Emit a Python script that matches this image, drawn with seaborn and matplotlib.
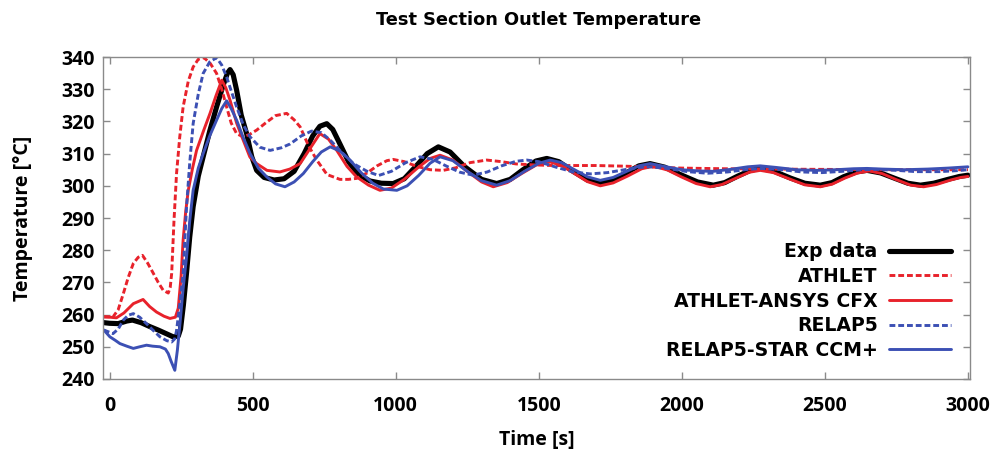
import matplotlib
matplotlib.use("Agg")
import matplotlib.pyplot as plt
import seaborn as sns

# ---- series: time [s] and temperature [°C] ----
exp_t = [-20, 0, 30, 60, 80, 110, 140, 170, 200, 222, 240, 248, 258, 269, 280, 292, 310, 327, 350,
         374, 398, 412, 421, 432, 444, 460, 479, 497, 514, 540, 575, 610, 645, 680, 710, 735, 759,
         780, 805, 835, 870, 910, 950, 991, 1030, 1070, 1110, 1149, 1190, 1240, 1300, 1353, 1400,
         1445, 1490, 1528, 1570, 1620, 1670, 1715, 1760, 1805, 1850, 1889, 1940, 2000, 2055, 2110,
         2150, 2195, 2240, 2274, 2320, 2380, 2430, 2484, 2525, 2565, 2610, 2647, 2695, 2745, 2790,
         2834, 2880, 2930, 2970, 3000]
exp_v = [257.5, 257.3, 257.2, 258.0, 258.3, 257.5, 256.3, 255.2, 254.0, 253.1, 253.3, 255.5, 263.0,
         273.0, 284.0, 293.5, 303.0, 309.0, 317.0, 324.5, 331.5, 335.0, 336.1, 334.5, 329.7, 322.0,
         316.2, 309.0, 304.8, 302.6, 301.8, 302.2, 304.5, 310.0, 315.5, 318.5, 319.3, 317.5, 313.0,
         307.5, 303.5, 301.5, 300.8, 300.7, 302.2, 306.0, 310.0, 312.1, 310.5, 306.0, 302.0, 300.7,
         302.0, 305.0, 307.7, 308.5, 307.5, 304.5, 301.8, 300.7, 301.8, 304.0, 306.2, 306.9, 305.8,
         303.3, 301.2, 300.2, 301.0, 303.0, 304.8, 305.4, 304.6, 302.4, 300.8, 300.2, 301.0, 302.8,
         304.3, 304.8, 304.0, 302.3, 300.8, 300.2, 300.8, 302.0, 302.9, 303.3]

athlet_t = [-20, 12, 30, 48, 65, 83, 100, 115, 133, 153, 170, 187, 205, 212, 217, 225, 234, 245,
            257, 275, 292, 310, 330, 352, 374, 392, 409, 425, 444, 467, 490, 514, 545, 580, 619,
            645, 666, 695, 724, 760, 805, 835, 863, 900, 935, 969, 991, 1030, 1075, 1120, 1166,
            1210, 1260, 1318, 1370, 1420, 1481, 1550, 1620, 1700, 1800, 1900, 2000, 2150, 2300,
            2500, 2700, 2900, 3000]
athlet_v = [259.3, 259.3, 261.5, 266.5, 271.5, 275.9, 277.8, 278.4, 276.0, 272.8, 270.0, 267.6,
            266.7, 268.5, 272.8, 289.0, 303.8, 315.0, 324.5, 332.5, 336.9, 339.3, 339.8, 338.0,
            334.9, 330.0, 324.5, 319.5, 316.2, 315.2, 316.0, 317.3, 319.5, 321.8, 322.5, 320.5,
            318.3, 312.5, 308.0, 303.5, 302.0, 302.0, 302.3, 304.0, 306.2, 307.8, 308.2, 307.5,
            306.0, 305.0, 304.8, 305.6, 307.2, 308.0, 307.5, 306.8, 306.5, 306.3, 306.3, 306.3,
            306.1, 305.8, 305.5, 305.3, 305.2, 305.1, 305.0, 305.0, 305.0]

cfx_t = [-20, 0, 24, 50, 83, 117, 140, 164, 190, 211, 230, 240, 250, 257, 266, 275, 290, 304, 328,
         351, 372, 392, 406, 421, 444, 467, 490, 514, 550, 595, 630, 666, 700, 735, 765, 794, 830,
         863, 905, 945, 985, 1030, 1080, 1120, 1155, 1200, 1250, 1300, 1341, 1390, 1440, 1490,
         1540, 1580, 1625, 1670, 1715, 1760, 1810, 1860, 1901, 1950, 2000, 2050, 2099, 2140, 2190,
         2235, 2274, 2320, 2380, 2430, 2484, 2525, 2570, 2615, 2655, 2700, 2750, 2800, 2845, 2890,
         2940, 2975, 3000]
cfx_v = [259.3, 259.2, 259.0, 260.5, 263.4, 264.7, 262.5, 260.8, 259.5, 258.8, 259.2, 262.0, 272.0,
         283.1, 292.0, 298.6, 305.5, 311.0, 317.0, 322.5, 328.0, 332.8, 330.5, 326.6, 319.5, 314.2,
         309.0, 306.9, 304.8, 304.3, 305.2, 306.9, 311.5, 316.2, 314.5, 311.0, 306.0, 302.8, 300.2,
         298.6, 299.3, 302.0, 305.8, 308.5, 309.5, 308.0, 304.5, 301.2, 299.7, 301.0, 303.8, 306.4,
         307.4, 306.3, 303.8, 301.3, 300.0, 300.9, 303.0, 305.3, 306.1, 304.9, 302.7, 300.7, 299.7,
         300.4, 302.4, 304.2, 304.8, 304.1, 302.0, 300.3, 299.7, 300.5, 302.4, 304.0, 304.6, 303.8,
         301.9, 300.2, 299.7, 300.4, 301.8, 302.6, 302.9]

relap_t = [-20, 12, 30, 48, 65, 83, 105, 129, 150, 176, 200, 217, 228, 234, 245, 257, 269, 280, 292,
           310, 327, 350, 374, 392, 409, 425, 444, 467, 491, 525, 561, 600, 631, 670, 706, 740, 771,
           810, 852, 900, 940, 985, 1035, 1085, 1130, 1180, 1225, 1271, 1320, 1370, 1420, 1458,
           1500, 1560, 1620, 1680, 1740, 1800, 1850, 1889, 1950, 2020, 2090, 2160, 2230, 2280,
           2350, 2420, 2490, 2560, 2630, 2680, 2750, 2820, 2900, 2960, 3000]
relap_v = [255.2, 254.1, 255.5, 258.3, 259.8, 260.3, 259.2, 257.2, 255.3, 253.1, 251.9, 251.5,
           252.5, 255.0, 263.0, 272.8, 293.5, 307.0, 319.3, 328.5, 334.9, 338.5, 339.8, 337.5,
           333.8, 329.5, 324.5, 319.0, 315.2, 312.0, 311.0, 311.8, 313.0, 315.5, 317.0, 316.5,
           314.2, 310.5, 306.9, 304.5, 303.2, 304.5, 307.2, 309.0, 308.2, 306.0, 304.2, 303.3,
           304.3, 306.2, 307.6, 308.0, 307.5, 305.8, 304.3, 303.7, 304.1, 305.0, 305.7, 305.9,
           305.4, 304.4, 303.9, 304.3, 305.1, 305.4, 305.0, 304.3, 304.1, 304.5, 305.0, 305.1,
           304.8, 304.4, 304.4, 304.7, 305.0]

star_t = [-20, 1, 20, 36, 60, 83, 105, 129, 150, 176, 195, 205, 215, 228, 237, 246, 257, 269, 280,
          292, 310, 327, 350, 374, 392, 409, 425, 444, 467, 491, 520, 549, 580, 613, 645, 677, 710,
          740, 771, 805, 840, 880, 920, 957, 1004, 1040, 1080, 1120, 1155, 1200, 1250, 1300, 1353,
          1400, 1450, 1500, 1540, 1580, 1625, 1670, 1715, 1760, 1810, 1850, 1889, 1940, 2000, 2060,
          2110, 2170, 2230, 2274, 2330, 2400, 2470, 2540, 2600, 2647, 2700, 2780, 2860, 2930, 3000]
star_v = [255.2, 253.1, 252.0, 251.0, 250.2, 249.5, 250.0, 250.5, 250.2, 250.0, 249.3, 247.9,
          245.5, 242.7, 249.0, 257.2, 268.0, 277.9, 289.0, 298.6, 305.5, 310.0, 315.5, 320.4,
          324.0, 326.4, 324.0, 320.4, 315.0, 310.0, 305.5, 302.8, 300.6, 299.7, 301.2, 303.8,
          307.5, 310.5, 312.1, 310.8, 308.0, 304.0, 300.8, 299.0, 298.6, 300.0, 303.2, 307.0,
          309.0, 307.8, 304.5, 301.6, 300.2, 301.6, 304.5, 307.0, 308.0, 307.2, 305.0, 302.8,
          301.7, 302.6, 304.6, 306.2, 306.9, 306.0, 305.0, 304.6, 304.5, 305.1, 305.9, 306.2,
          305.7, 305.0, 304.8, 305.0, 305.3, 305.4, 305.2, 305.0, 305.2, 305.5, 305.9]

x_ticks = [0, 500, 1000, 1500, 2000, 2500, 3000]
y_ticks = [240, 250, 260, 270, 280, 290, 300, 310, 320, 330, 340]

RED = "#e8222b"
BLUE = "#3c50b4"

sns.set_style("ticks")
plt.rcParams["font.family"] = ["DejaVu Sans"]
plt.rcParams["text.color"] = "black"
plt.rcParams["axes.labelcolor"] = "black"
plt.rcParams["xtick.labelcolor"] = "black"
plt.rcParams["ytick.labelcolor"] = "black"

fig = plt.figure(figsize=(10.02, 4.58), dpi=100)
ax = fig.add_axes([0.1028, 0.1725, 0.8655, 0.703])

series = [
    ("Exp data", exp_t, exp_v, "black", 3.7, "-"),
    ("ATHLET", athlet_t, athlet_v, RED, 2.1, (0, (2, 1))),
    ("ATHLET-ANSYS CFX", cfx_t, cfx_v, RED, 2.1, "-"),
    ("RELAP5", relap_t, relap_v, BLUE, 2.1, (0, (2, 1))),
    ("RELAP5-STAR CCM+", star_t, star_v, BLUE, 2.1, "-"),
]
for label, t, v, col, lw, ls in series:
    sns.lineplot(x=t, y=v, ax=ax, color=col, linewidth=lw, linestyle=ls,
                 label=label, sort=False, estimator=None)

ax.set_xlim(-23, 3008)
ax.set_ylim(240, 340)
ax.set_xticks(x_ticks)
ax.set_yticks(y_ticks)

tick_font = dict(family="Open Sans", weight="bold", size=14)
ax.set_xticklabels([str(v) for v in x_ticks], fontdict=tick_font)
ax.set_yticklabels([str(v) for v in y_ticks], fontdict=tick_font)
ax.tick_params(direction="in", length=5, width=1, color="#8a8a8a",
               top=True, right=True)
ax.tick_params(axis="x", pad=12)
ax.tick_params(axis="y", pad=6)
for sp in ax.spines.values():
    sp.set_color("#8a8a8a")
    sp.set_linewidth(1.0)

ax.set_xlabel("Time [s]", fontdict=tick_font, labelpad=10, color="black")
ax.set_ylabel("Temperature [°C]", fontdict=tick_font, labelpad=20, color="black")

fig.text(0.537, 1 - 20 / 458, "Test Section Outlet Temperature",
         ha="center", va="center", fontsize=12.8, fontweight="bold", color="black")

leg = ax.legend(loc="lower right", frameon=False, markerfirst=False,
                prop=dict(family="DejaVu Sans", weight="bold", size=13.6),
                handlelength=3.3, labelspacing=0.3, handletextpad=0.6,
                borderaxespad=0.6)
for txt in leg.get_texts():
    txt.set_color("black")

fig.savefig("out.png", dpi=100)
